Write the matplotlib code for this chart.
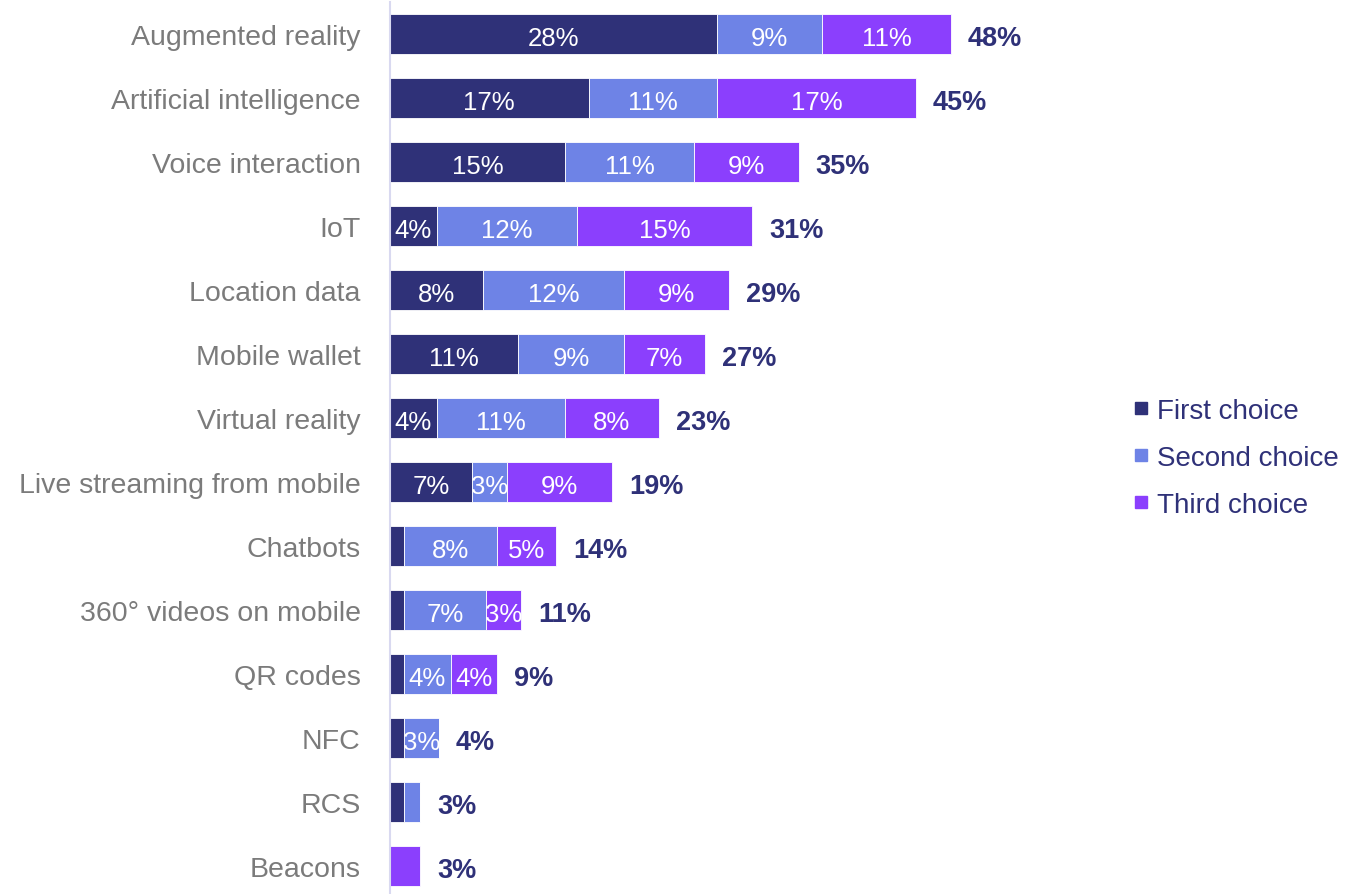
import matplotlib
matplotlib.use("Agg")
import matplotlib.pyplot as plt
from matplotlib.patches import Patch

plt.rcParams['font.family'] = ['Liberation Sans', 'DejaVu Sans']

# survey shares (%) per technology, split by ranking
categories = ["Augmented reality", "Artificial intelligence", "Voice interaction",
              "IoT", "Location data", "Mobile wallet", "Virtual reality",
              "Live streaming from mobile", "Chatbots", "360° videos on mobile",
              "QR codes", "NFC", "RCS", "Beacons"]
first = [28, 17, 15, 4, 8, 11, 4, 7, 1.2, 1.2, 1.2, 1.2, 1.2, 0]
second = [9, 11, 11, 12, 12, 9, 11, 3, 8, 7, 4, 3, 1.4, 0]
third = [11, 17, 9, 15, 9, 7, 8, 9, 5, 3, 4, 0, 0, 2.6]
series_names = ["First choice", "Second choice", "Third choice"]

colors = ["#2f3178", "#6e83e6", "#8b3ffd"]
navy = "#2f3178"

fig = plt.figure(figsize=(13.5, 8.95), dpi=100)
ax = fig.add_axes([390 / 1350, -4 / 895, 584 / 1350, 896 / 895])

y = list(range(len(categories)))
left = [0] * len(categories)
for vals, col in zip([first, second, third], colors):
    bars = ax.barh(y, vals, left=left, height=0.64, color=col,
                   edgecolor="white", linewidth=0.6)
    for b, v in zip(bars, vals):
        if v >= 3:
            ax.text(b.get_x() + b.get_width() / 2, b.get_y() + b.get_height() / 2 + 0.02,
                    f"{v:.0f}%", ha="center", va="center_baseline", color="white",
                    fontsize=18.5)
    left = [l + v for l, v in zip(left, vals)]

# totals to the right of each bar
for yi, tot in zip(y, left):
    ax.text(tot + 1.45, yi + 0.02, f"{round(tot):.0f}%", ha="left",
            va="center_baseline", color=navy, fontsize=19.5, fontweight="bold")

ax.set_xlim(0, 50)
ax.set_ylim(len(categories) - 0.5, -0.5)
ax.set_yticks(y)
ax.set_yticklabels(categories, fontsize=20.5, color="#7b7b7b")
ax.tick_params(axis="y", length=0, pad=21)
ax.set_xticks([])
for s in ["top", "right", "bottom"]:
    ax.spines[s].set_visible(False)
ax.spines["left"].set_color("#d9d9f0")
ax.spines["left"].set_linewidth(1.5)

handles = [Patch(color=c) for c in colors]
fig.legend(handles, series_names, loc="center left",
           bbox_to_anchor=(1110 / 1350, (895 - 459) / 895), frameon=False,
           fontsize=20, labelcolor=navy, handlelength=0.42, handleheight=0.3,
           handletextpad=0.38, labelspacing=0.76)

fig.savefig("out.png", dpi=100)
